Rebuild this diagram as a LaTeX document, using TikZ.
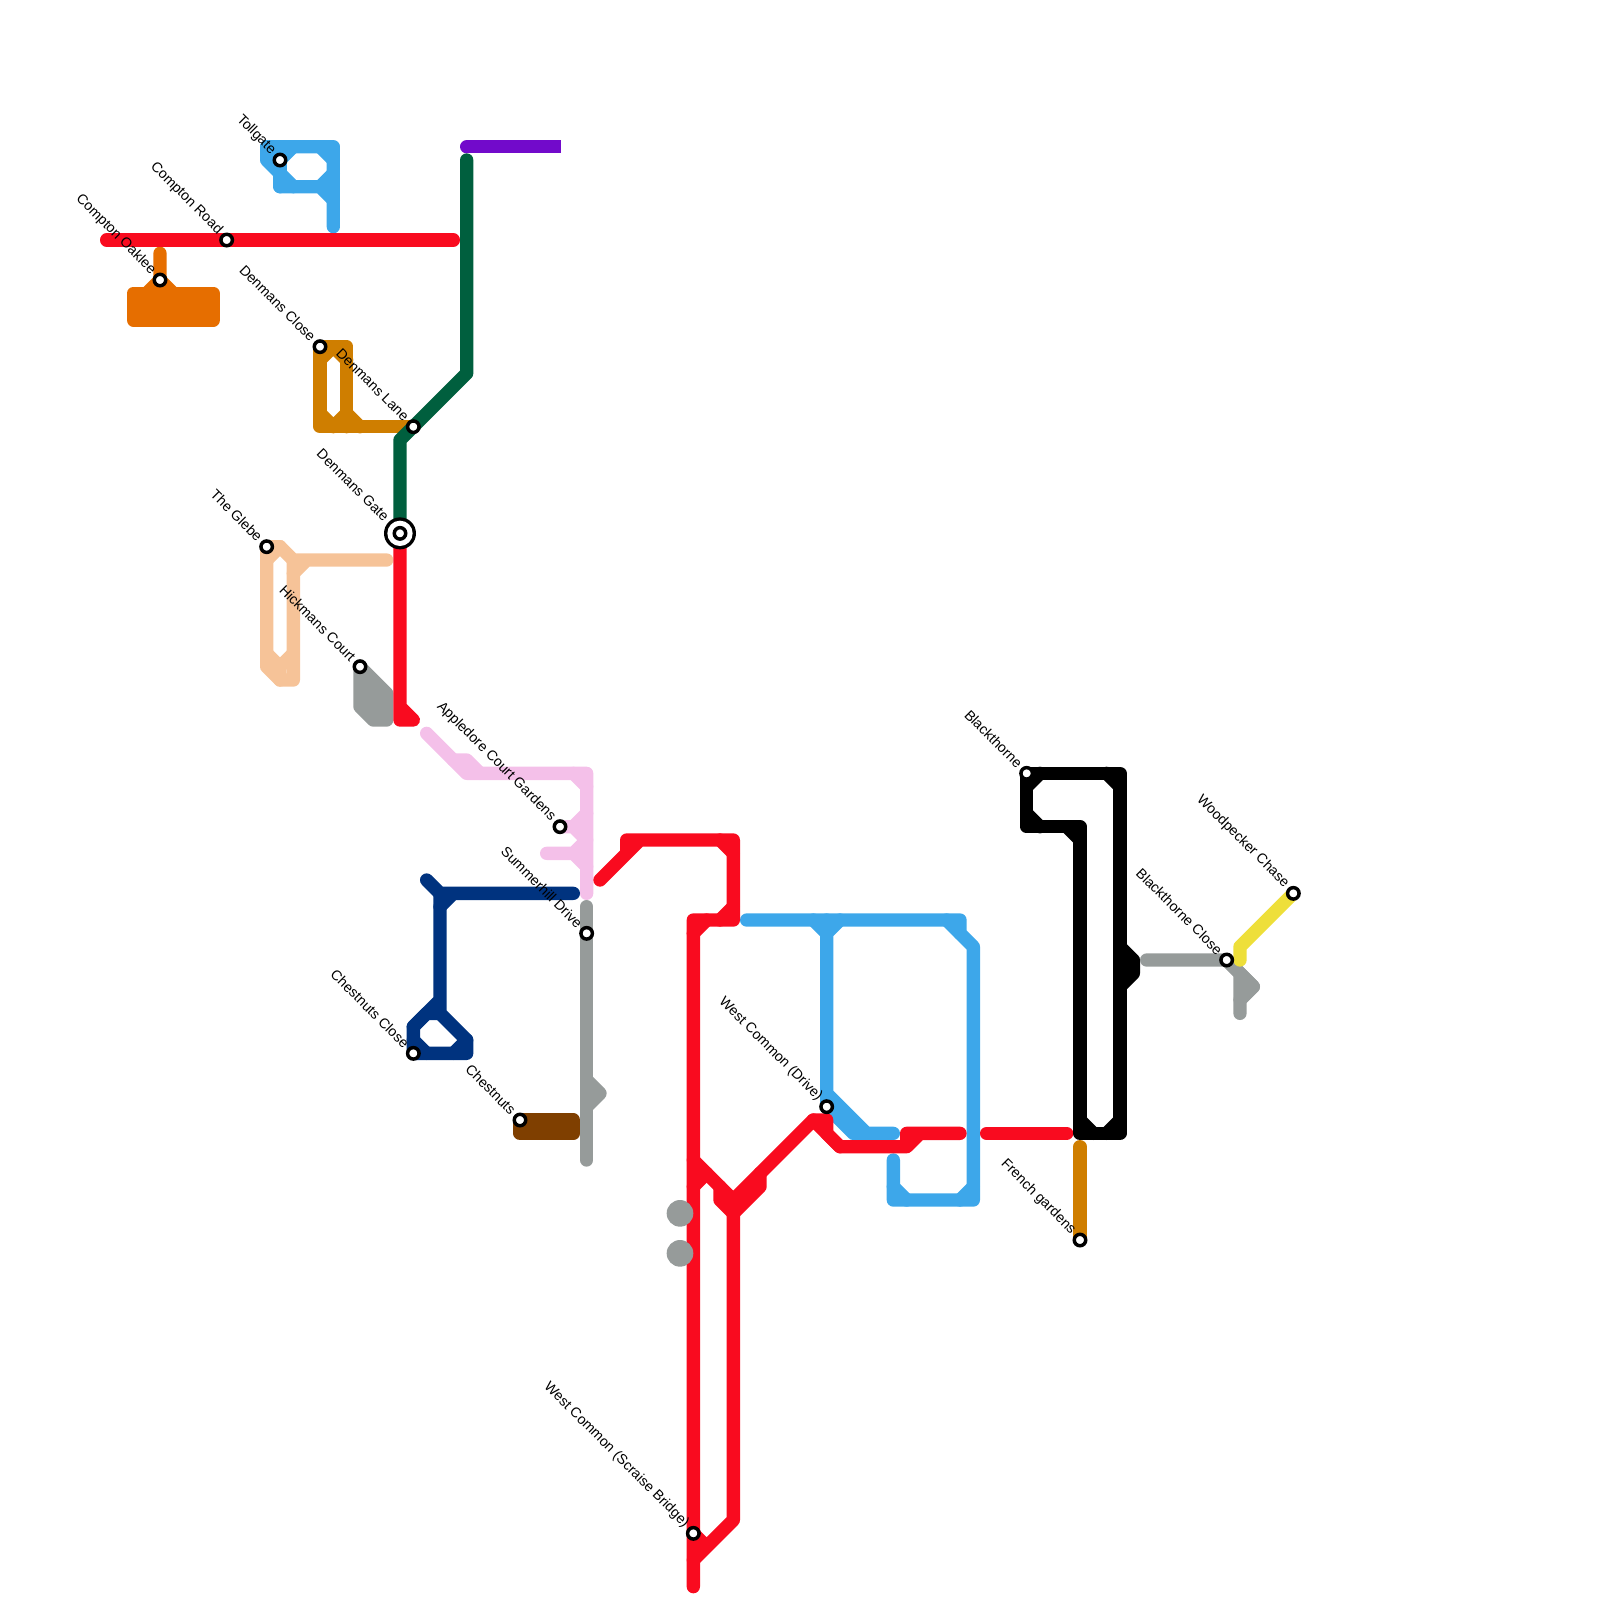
\documentclass[tikz,border=0pt]{standalone}
\usepackage{fontspec}
\setmainfont{Liberation Sans}
\usepackage{tikz}
\usetikzlibrary{calc}
\definecolor{RouteRed}{RGB}{249,11,31}
\definecolor{RouteBlue}{RGB}{61,167,234}
\definecolor{RouteGreen}{RGB}{0,95,62}
\definecolor{RoutePurple}{RGB}{114,10,203}
\definecolor{RouteOrange}{RGB}{230,110,0}
\definecolor{RouteOchre}{RGB}{207,126,0}
\definecolor{RoutePeach}{RGB}{246,195,152}
\definecolor{RouteGrey}{RGB}{150,155,154}
\definecolor{RoutePink}{RGB}{244,192,233}
\definecolor{RouteNavy}{RGB}{0,51,127}
\definecolor{RouteBrown}{RGB}{127,63,0}
\definecolor{RouteYellow}{RGB}{238,223,58}
\tikzset{
  route/.style={line width=1mm,line cap=round,line join=round},
  stopmark/.style={circle,draw=black,fill=white,line width=0.26mm,minimum size=0.86mm,inner sep=0pt},
  stoplabel/.style={rotate=-45,anchor=east,inner sep=0pt,font=\fontsize{3.02}{3.6}\selectfont},
}

\begin{document}
\begin{tikzpicture}[x=1mm,y=-1mm]
\useasboundingbox (0,0) rectangle (120,120);
\coordinate (Tollgate) at (21,12);
\coordinate (ComptonRoad) at (17,18);
\coordinate (ComptonOaklee) at (12,21);
\coordinate (DenmansClose) at (24,26);
\coordinate (DenmansLane) at (31,32);
\coordinate (DenmansGate) at (30,40);
\coordinate (TheGlebe) at (20,41);
\coordinate (HickmansCourt) at (27,50);
\coordinate (Appledore) at (42,62);
\coordinate (Summerhill) at (44,70);
\coordinate (ChestnutsClose) at (31,79);
\coordinate (Chestnuts) at (39,84);
\coordinate (WestCommonDrive) at (62,83);
\coordinate (WestCommonBridge) at (52,115);
\coordinate (Blackthorne) at (77,58);
\coordinate (FrenchGardens) at (81,93);
\coordinate (BlackthorneClose) at (92,72);
\coordinate (Woodpecker) at (97,67);
\draw[route,RouteBlue] (Tollgate)--(20,11)--(25,11)--(25,17);
\draw[route,RouteBlue] (20,11)--(20,12)--(21,13)--(21,14)--(24,14)--(25,15);
\draw[route,RouteBlue] (Tollgate)--(21,14);
\draw[route,RouteBlue] (Tollgate)--(22,11) (24,11)--(25,12) (25,13)--(24,14) (21,13)--(22,14);
\draw[route,RouteOrange] (12,19)--(ComptonOaklee)--(11,22) (ComptonOaklee)--(13,22);
\draw[route,RouteOrange,fill=RouteOrange] (10,22) rectangle (16,24);
\draw[route,RouteOchre] (DenmansClose)--(26,26)--(26,32) (DenmansClose)--(24,32)--(DenmansLane);
\draw[route,RouteOchre] (24,27)--(25,26)--(26,27) (24,31)--(25,32)--(26,31)--(27,32);
\draw[route,RouteOchre] (FrenchGardens)--(81,86);
\draw[route,RoutePurple,line cap=butt] (35,11)--(42.1,11);
\fill[RoutePurple] (35,11) circle (0.5);
\draw[route,RouteGreen] (35,12)--(35,28)--(30,33)--(DenmansGate);
\draw[route,RoutePeach] (TheGlebe)--(21,41)--(22,42)--(29,42) (22,43)--(23,42);
\draw[route,RoutePeach] (TheGlebe)--(20,50)--(21,51)--(22,51)--(22,42);
\draw[route,RoutePeach] (20,42)--(21,41) (20,49)--(21,50)--(22,49) (21,50)--(21,51);
\draw[route,RouteGrey,fill=RouteGrey] (HickmansCourt)--(29,52)--(29,54)--(28,54)--(27,53)--cycle;
\draw[route,RoutePink] (32,55)--(35,58)--(44,58)--(44,67);
\draw[route,RoutePink] (34,57)--(35,57)--(36,58) (43,58)--(44,59);
\draw[route,RoutePink] (Appledore)--(43,62)--(44,61) (43,62)--(44,63)--(43,64)--(41,64) (43,64)--(44,65);
\draw[route,RouteNavy] (32,66)--(33,67)--(43,67) (33,68)--(34,67);
\draw[route,RouteNavy] (33,67)--(33,76)--(35,78)--(35,79)--(ChestnutsClose)--(31,77)--(33,75);
\draw[route,RouteNavy] (31,77)--(32,76)--(33,76) (31,78)--(32,79) (34,79)--(35,78);
\draw[route,RouteGrey] (44,68)--(44,87);
\draw[route,RouteGrey] (44,81)--(45,82)--(44,83);
\draw[route,RouteBrown,fill=RouteBrown] (Chestnuts) rectangle (43,85);
\draw[route,RouteBlue] (56,69)--(72,69)--(72,70)--(73,71)--(73,90)--(67,90)--(67,87);
\draw[route,RouteBlue] (71,69)--(72,70) (67,89)--(68,90) (72,90)--(73,89);
\draw[route,RouteBlue] (61,69)--(62,70)--(63,69) (62,69)--(WestCommonDrive)--(64,85)--(67,85) (62,82)--(65,85);
\draw[route,RouteRed] (8,18)--(34,18);
\draw[route,RouteRed] (DenmansGate)--(30,54)--(31,54)--(30,53);
\draw[route,RouteRed] (45,66)--(48,63) (47,64)--(47,63)--(55,63)--(55,69)--(52,69)--(52,119);
\draw[route,RouteRed] (54,63)--(55,64) (54,69)--(55,68) (52,70)--(53,69);
\draw[route,RouteRed] (52,87)--(55,90)--(61,84)--(63,86)--(68,86)--(69,85) (68,86)--(68,85)--(72,85);
\draw[route,RouteRed] (62,84)--(62,85)--(63,86) (61,84)--(62,84);
\draw[route,RouteRed] (52,89)--(53,88) (54,89)--(54,90)--(55,91)--(57,89)--(57,88);
\draw[route,RouteRed] (55,90)--(55,114)--(52,117) (WestCommonBridge)--(53,116);
\draw[route,RouteRed] (74,85)--(80,85);
\fill[RouteGrey] (51,91) circle (1);
\fill[RouteGrey] (51,94) circle (1);
\draw[route,black] (Blackthorne)--(84,58)--(84,85)--(81,85)--(81,62)--(77,62)--cycle;
\draw[route,black] (77,59)--(78,58) (83,58)--(84,59) (77,61)--(78,62) (80,62)--(81,63);
\draw[route,black] (81,84)--(82,85) (83,85)--(84,84);
\draw[route,black,fill=black] (84,71)--(85,72)--(85,73)--(84,74)--cycle;
\draw[route,RouteGrey] (86,72)--(BlackthorneClose)--(94,74)--(93,75)--(93,76);
\draw[route,RouteGrey,fill=RouteGrey] (BlackthorneClose)--(94,74)--(93,75)--(93,73)--cycle;
\draw[route,RouteYellow] (Woodpecker)--(93,71)--(93,72);
\node[circle,fill=black,minimum size=2.4mm,inner sep=0pt] (gateouter) at (DenmansGate) {};
\node[circle,fill=white,minimum size=1.9mm,inner sep=0pt] (gateinner) at (DenmansGate) {};
\foreach \stop/\stoptext in {Tollgate/Tollgate,ComptonRoad/Compton Road,ComptonOaklee/Compton Oaklee,
  DenmansClose/Denmans Close,DenmansLane/Denmans Lane,DenmansGate/Denmans Gate,TheGlebe/The Glebe,
  HickmansCourt/Hickmans Court,Appledore/Appledore Court Gardens,Summerhill/Summerhill Drive,
  ChestnutsClose/Chestnuts Close,Chestnuts/Chestnuts,WestCommonDrive/West Common (Drive),
  WestCommonBridge/West Common (Scraise Bridge),Blackthorne/Blackthorne,FrenchGardens/French gardens,
  BlackthorneClose/Blackthorne Close,Woodpecker/Woodpecker Chase}
  \node[stopmark] (mark\stop) at (\stop) {};
\foreach \stop/\stoptext in {Tollgate/Tollgate,ComptonRoad/Compton Road,ComptonOaklee/Compton Oaklee,
  DenmansClose/Denmans Close,DenmansLane/Denmans Lane,TheGlebe/The Glebe,
  HickmansCourt/Hickmans Court,Appledore/Appledore Court Gardens,Summerhill/Summerhill Drive,
  ChestnutsClose/Chestnuts Close,Chestnuts/Chestnuts,WestCommonDrive/West Common (Drive),
  WestCommonBridge/West Common (Scraise Bridge),Blackthorne/Blackthorne,FrenchGardens/French gardens,
  BlackthorneClose/Blackthorne Close,Woodpecker/Woodpecker Chase}
  \node[stoplabel] (text\stop) at ($(\stop)+(-0.45,-0.55)$) {\stoptext};
\node[stoplabel] (textDenmansGate) at ($(DenmansGate)+(-0.95,-1.05)$) {Denmans Gate};
\end{tikzpicture}
\end{document}
